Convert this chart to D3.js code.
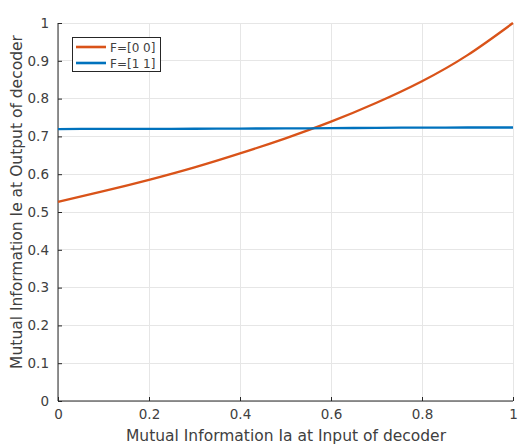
<!DOCTYPE html>
<html><head><meta charset="utf-8">
<script src="https://cdn.jsdelivr.net/npm/d3@7"></script>
<style>body{margin:0;background:#fff;}svg{display:block;font-family:"DejaVu Sans",sans-serif;}</style>
</head><body><svg id="c" width="518" height="448"></svg>
<script>
const xVals = [0, 0.1, 0.2, 0.3, 0.4, 0.5, 0.6, 0.7, 0.8, 0.9, 1.0];
const f00 = [0.527, 0.555, 0.585, 0.618, 0.655, 0.695, 0.739, 0.789, 0.846, 0.915, 1.0];
const f11 = [0.7195, 0.7198, 0.7200, 0.7203, 0.7207, 0.7212, 0.7218, 0.7226, 0.7232, 0.7235, 0.7236];
const seriesNames = ["F=[0 0]", "F=[1 1]"];
const xTicks = [0, 0.2, 0.4, 0.6, 0.8, 1];
const yTicks = [0, 0.1, 0.2, 0.3, 0.4, 0.5, 0.6, 0.7, 0.8, 0.9, 1];
const colors = ["#D95319", "#0072BD"];

const svg = d3.select("#c");
const L = 58, R = 513, T = 23, B = 401;
const x = d3.scaleLinear().domain([0, 1]).range([L, R]);
const y = d3.scaleLinear().domain([0, 1]).range([B, T]);
const txt = "#404040";

// grid
const g = svg.append("g");
g.selectAll(".gx").data(xTicks).enter().append("line")
  .attr("x1", d => x(d)).attr("x2", d => x(d)).attr("y1", B).attr("y2", T)
  .attr("stroke", "#e6e6e6").attr("stroke-width", 1).attr("shape-rendering","crispEdges");
g.selectAll(".gy").data(yTicks).enter().append("line")
  .attr("x1", L).attr("x2", R).attr("y1", d => y(d)).attr("y2", d => y(d))
  .attr("stroke", "#e6e6e6").attr("stroke-width", 1).attr("shape-rendering","crispEdges");

// axes
const xAxis = d3.axisBottom(x).tickValues(xTicks).tickSize(-4).tickPadding(8).tickFormat(d3.format("~g"));
const yAxis = d3.axisLeft(y).tickValues(yTicks).tickSize(-4).tickPadding(9).tickFormat(d3.format("~g"));
const ax = svg.append("g").attr("transform", `translate(0,${B})`).call(xAxis);
const ay = svg.append("g").attr("transform", `translate(${L},0)`).call(yAxis);
[ax, ay].forEach(a => {
  a.select(".domain").attr("stroke", "#262626").attr("stroke-width", 1);
  a.selectAll(".tick line").attr("stroke", "#262626");
  a.selectAll(".tick text").attr("fill", txt).attr("font-size", "13.5px")
    .attr("font-family", "DejaVu Sans, sans-serif");
});
ax.select(".domain").attr("d", `M${L},0H${R}`);
ay.select(".domain").attr("d", `M0,${B}V${T}`);

// lines
const line = d3.line().x((d, i) => x(xVals[i])).y(d => y(d)).curve(d3.curveNatural);
[f00, f11].forEach((s, k) => {
  svg.append("path").datum(s).attr("d", line)
    .attr("fill", "none").attr("stroke", colors[k]).attr("stroke-width", 2.3);
});

// labels
svg.append("text").attr("x", 286).attr("y", 441).attr("text-anchor", "middle")
  .attr("font-size", "15.5px").attr("fill", txt).text("Mutual Information Ia at Input of decoder");
svg.append("text").attr("transform", `translate(22,${202}) rotate(-90)`).attr("text-anchor", "middle")
  .attr("font-size", "15.5px").attr("fill", txt).text("Mutual Information Ie at Output of decoder");

// legend
const lg = svg.append("g");
lg.append("rect").attr("x", 72.5).attr("y", 37.5).attr("width", 88).attr("height", 34)
  .attr("fill", "#fff").attr("stroke", "#262626").attr("stroke-width", 1);
seriesNames.forEach((n, i) => {
  const yy = 47 + i * 16;
  lg.append("line").attr("x1", 76).attr("x2", 106).attr("y1", yy).attr("y2", yy)
    .attr("stroke", colors[i]).attr("stroke-width", 2.6);
  lg.append("text").attr("x", 110).attr("y", yy + 4.5).attr("font-size", "12px")
    .attr("fill", txt).text(n);
});
</script></body></html>
